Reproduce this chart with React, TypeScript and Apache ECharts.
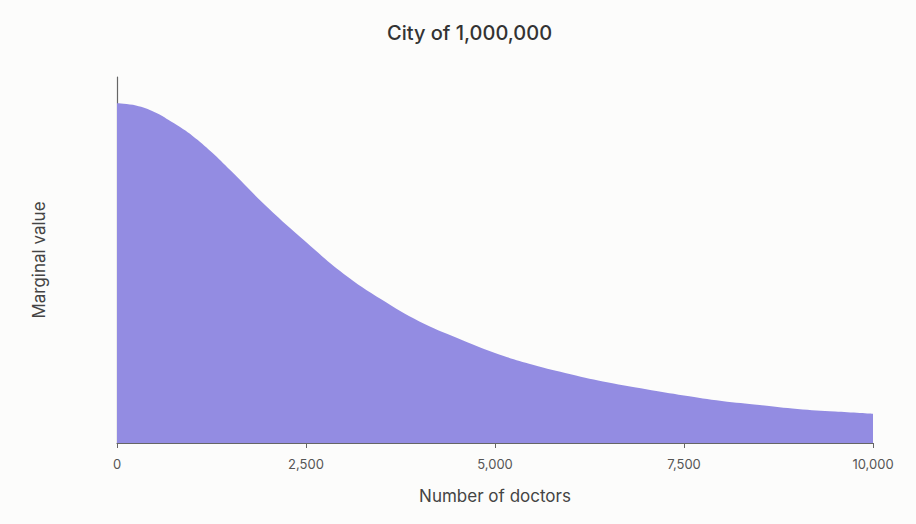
import React, { useEffect, useRef } from "react";
import * as echarts from "echarts";

const xValues = [0, 250, 500, 750, 1000, 1250, 1500, 2000, 2500, 3000, 3500, 4000, 4500, 5000, 5500, 6000, 6500, 7000, 7500, 8000, 8500, 9000, 9500, 10000];
const yValues = [92.8, 92.2, 90.4, 87.4, 83.9, 79.5, 74.5, 64.2, 54.9, 46.2, 39.2, 33.2, 28.7, 24.6, 21.4, 18.8, 16.5, 14.7, 13.0, 11.5, 10.4, 9.3, 8.6, 8.0];
const titleText = "City of 1,000,000";
const xAxisName = "Number of doctors";
const yAxisName = "Marginal value";

export default function App() {
  const ref = useRef<HTMLDivElement>(null);
  useEffect(() => {
    document.body.style.margin = "0";
    const chart = echarts.init(ref.current!, null, { renderer: "svg" });
    const font = "Inter, 'Noto Sans', sans-serif";
    chart.setOption({
      animation: false,
      backgroundColor: "#fcfcfb",
      title: {
        text: titleText,
        left: 382,
        top: 18,
        textStyle: { fontFamily: font, fontSize: 20, fontWeight: 500, color: "#333" },
      },
      grid: { left: 117, right: 43, top: 77, bottom: 81 },
      xAxis: {
        type: "value",
        min: 0,
        max: 10000,
        interval: 2500,
        name: xAxisName,
        nameLocation: "middle",
        nameGap: 44,
        nameTextStyle: { fontFamily: font, fontSize: 17, color: "#444" },
        axisLine: { show: true, lineStyle: { color: "#666", width: 1.2 } },
        axisTick: { show: true, length: 5, lineStyle: { color: "#666" } },
        axisLabel: {
          fontFamily: font,
          fontSize: 13,
          color: "#555",
          margin: 14,
          formatter: (v: number) => v.toLocaleString("en-US"),
        },
        splitLine: { show: false },
      },
      yAxis: {
        type: "value",
        min: 0,
        max: 100,
        name: yAxisName,
        nameLocation: "middle",
        nameGap: 70,
        nameTextStyle: { fontFamily: font, fontSize: 17, color: "#444" },
        axisLine: { show: true, lineStyle: { color: "#666", width: 1.2 } },
        axisTick: { show: false },
        axisLabel: { show: false },
        splitLine: { show: false },
      },
      series: [
        {
          type: "line",
          data: xValues.map((x, i) => [x, yValues[i]]),
          smooth: 0.4,
          symbol: "none",
          lineStyle: { width: 0 },
          areaStyle: { color: "#938ce2", opacity: 1 },
          z: 1,
        },
      ],
    });
    return () => chart.dispose();
  }, []);
  return <div ref={ref} style={{ position: "absolute", left: 0, top: 0, width: 916, height: 524 }} />;
}
